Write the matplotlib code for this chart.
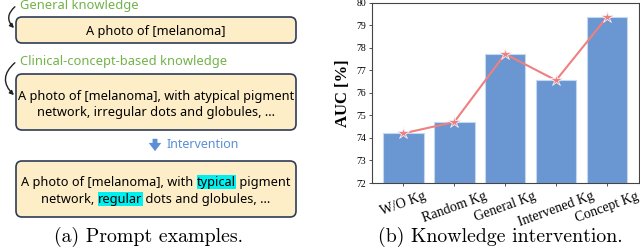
"""
Prompt examples + knowledge intervention AUC chart
"""

import matplotlib
matplotlib.use('Agg')
import matplotlib.pyplot as plt
from matplotlib.patches import FancyBboxPatch, FancyArrowPatch

methods = ['W/O Kg', 'Random Kg', 'General Kg', 'Intervened Kg', 'Concept Kg']
auc = [74.2, 74.7, 77.72, 76.55, 79.35]
yticks = [72, 73, 74, 75, 76, 77, 78, 79, 80]

W, H = 640, 247
fig = plt.figure(figsize=(W / 100, H / 100), dpi=100)

# ---------- (a) prompt examples, drawn in pixel coords ----------
axl = fig.add_axes([0, 0, 1, 1])
axl.set_xlim(0, W)
axl.set_ylim(H, 0)
axl.axis('off')

sans = 'Noto Sans'
box_fc = '#fdeec8'
box_ec = '#2e3c58'
green = '#72b34a'
blue = '#5b8fd6'
txt_fs = 9.2


def box(y0, y1):
    p = FancyBboxPatch((16, y0), 280, y1 - y0, boxstyle='round,pad=0,rounding_size=6',
                       fc=box_fc, ec=box_ec, lw=1.2)
    axl.add_patch(p)


def curved(y0, y1):
    a = FancyArrowPatch((17, y0), (16, y1), connectionstyle='arc3,rad=0.6',
                        arrowstyle='-|>', mutation_scale=6, color='#222222', lw=1.0)
    axl.add_patch(a)


renderer = fig.canvas.get_renderer()


def rich_line(pieces, y, cx=156):
    # pieces: list of (text, highlighted)
    objs = []
    widths = []
    for s, hl in pieces:
        t = axl.text(0, y, s, fontsize=txt_fs, family=sans, va='center', ha='left', color='black')
        if hl:
            t.set_bbox(dict(fc='#00f0f0', ec='none', pad=0.3))
        bb = t.get_window_extent(renderer=renderer)
        objs.append(t)
        widths.append(bb.width)
    total = sum(widths)
    x = cx - total / 2
    for t, w in zip(objs, widths):
        t.set_x(x)
        x += w


axl.text(20, 5, 'General knowledge', color=green, fontsize=9.3, family=sans, va='center')
box(17, 43)
curved(5, 30)
axl.text(156, 31, 'A photo of [melanoma]', fontsize=txt_fs, family=sans, ha='center', va='center')

axl.text(20, 61, 'Clinical-concept-based knowledge', color=green, fontsize=9.3, family=sans, va='center')
box(74, 130)
curved(61, 97)
rich_line([('A photo of [melanoma], with atypical pigment', False)], 96)
rich_line([('network, irregular dots and globules, ...', False)], 112)

axl.add_patch(FancyArrowPatch((155, 136), (155, 154), arrowstyle='simple,head_width=0.9,head_length=0.6,tail_width=0.35',
                              mutation_scale=10, color=blue, lw=0))
axl.text(167, 144, 'Intervention', color=blue, fontsize=9, family=sans, va='center')

box(161, 217)
rich_line([('A photo of [melanoma], with ', False), ('typical', True), (' pigment', False)], 182)
rich_line([('network, ', False), ('regular', True), (' dots and globules, ...', False)], 199)

fig.text(148 / W, 1 - 237 / H, '(a) Prompt examples.', family='cmr10', fontsize=14.3,
         ha='center', va='center')

# ---------- (b) knowledge intervention ----------
ax = fig.add_axes([371.7 / W, 1 - 183 / H, (639 - 371.7) / W, (183 - 2.5) / H])
x = range(len(methods))
ax.bar(x, [v - 72 for v in auc], 0.8, bottom=72, color='#6a96d2', edgecolor='#c5d8f2', lw=0.8)
ax.plot(x, auc, color='#f08080', lw=1.5, marker='*', markersize=9,
        markerfacecolor='#f08080', markeredgecolor='#f4f0f4', markeredgewidth=0.6)
ax.set_xlim(-0.62, 4.63)
ax.set_ylim(72, 80)
ax.set_yticks(yticks)
ax.set_yticklabels([str(v) for v in yticks], family='Liberation Serif', fontsize=7)
ax.set_xticks(list(x))
ax.set_xticklabels(methods, family='Liberation Serif', fontsize=10, rotation=20, ha='center')
ax.tick_params(length=2, width=0.6, pad=2, color='#333333')
ax.tick_params(axis='x', pad=3)
for s in ax.spines.values():
    s.set_color('#444444')
    s.set_linewidth(0.8)
ax.set_ylabel('AUC [%]', family='Liberation Serif', fontweight='bold', fontsize=12, labelpad=4)

fig.text(500 / W, 1 - 237 / H, '(b) Knowledge intervention.', family='cmr10', fontsize=14.3,
         ha='center', va='center')

fig.savefig('out.png', dpi=100)
